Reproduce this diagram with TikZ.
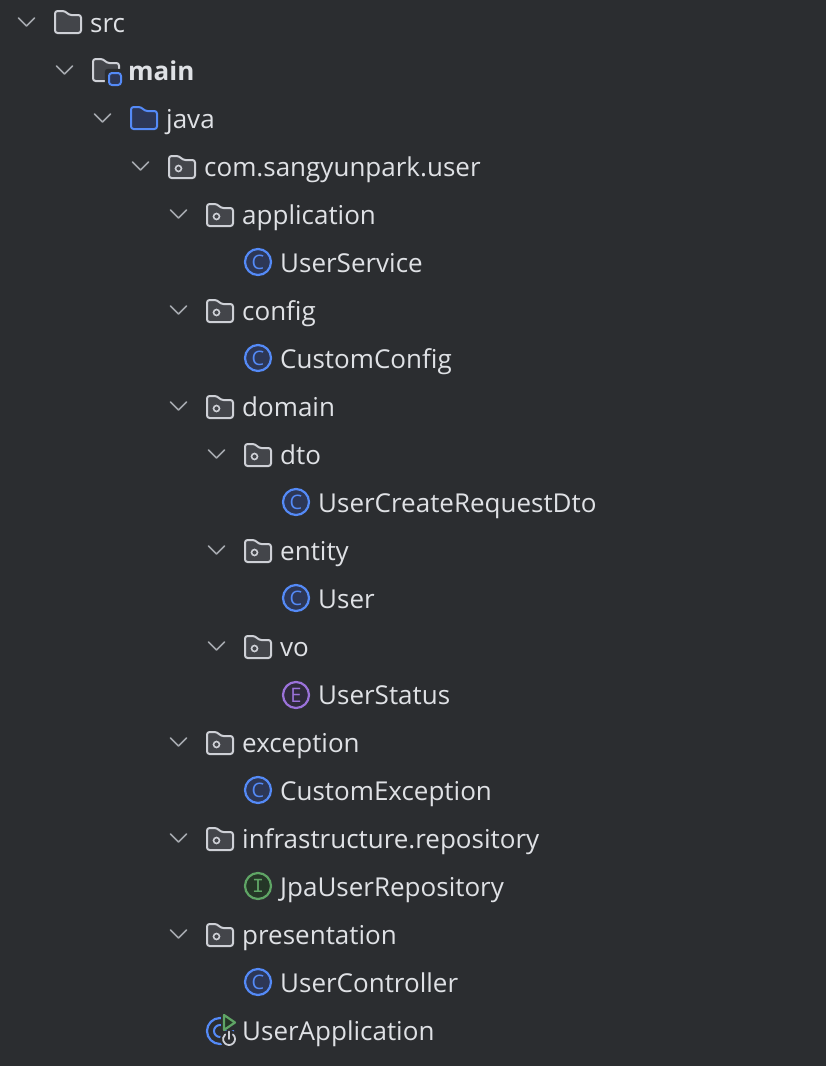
\documentclass[tikz,border=0pt]{standalone}
\usepackage{fontspec}
\setmainfont{Open Sans}
\newfontfamily\iconmono{Liberation Mono}
\definecolor{panelbg}{HTML}{2B2D30}
\definecolor{labelcol}{HTML}{DFE1E5}
\definecolor{chevcol}{HTML}{A4A7AD}
\definecolor{foldline}{HTML}{CED0D6}
\definecolor{foldfill}{HTML}{43454A}
\definecolor{blueline}{HTML}{548AF7}
\definecolor{bluefill}{HTML}{2D3756}
\definecolor{purpline}{HTML}{9B72DA}
\definecolor{purpfill}{HTML}{2F2A3C}
\definecolor{greenline}{HTML}{5FA565}
\definecolor{greenfill}{HTML}{253627}
\tikzset{
	x=1pt,y=-1pt,
	rowlabel/.style = {anchor=base west,inner sep=0pt,text=labelcol,font=\fontsize{26}{30}\selectfont},
	iconletter/.style = {inner sep=0pt,font=\fontsize{20}{20}\selectfont},
	pics/chevron/.style = {code={
		\draw[chevcol,line width=1.5pt,line cap=round,line join=round] (-8.5,-4) -- (-0.5,4) -- (7.5,-4);
	}},
	pics/foldericon/.style n args = {2}{code={
		\draw[#1,fill=#2,line width=2pt,rounded corners=2.6pt]
			(0,11) -- (0,-11) -- (10,-11) -- (14,-7) -- (26,-7) -- (26,11) -- cycle;
	}},
	pics/packageicon/.style = {code={
		\draw[foldline,fill=foldfill,line width=2pt,rounded corners=2.6pt]
			(0,11) -- (0,-11) -- (10,-11) -- (14,-7) -- (26,-7) -- (26,11) -- cycle;
		\draw[foldline,line width=1.6pt] (9.5,1.5) circle (3);
	}},
	pics/roundicon/.style n args = {3}{code={
		\draw[#1,fill=#2,line width=2.2pt] (0,0) circle (13);
		\node[iconletter,text=#1] at (0,0) {#3};
	}},
}
\begin{document}
\begin{tikzpicture}
	\useasboundingbox[fill=panelbg] (0,0) rectangle (826,1066);

	% tree rows: row/level/label
	\foreach \r/\l/\t in {0/0/src,2/2/java,3/3/com.sangyunpark.user,4/4/application,6/4/config,8/4/domain,9/5/dto,11/5/entity,13/5/vo,15/4/exception,17/4/infrastructure.repository,19/4/presentation}{
		\pic at ({27+38*\l},{23+48*\r-1}) {chevron};
		\node[rowlabel] (row\r) at ({90+38*\l},{32+48*\r}) {\t};
	}
	\pic at (65,70) {chevron};
	\node[rowlabel,font=\fontsize{26}{30}\selectfont\bfseries] (row1) at (128,80) {main};

	% plain, source and java folders
	\pic at (55,22) {foldericon={foldline}{foldfill}};
	\pic at (93,70) {foldericon={foldline}{foldfill}};
	\pic at (131,118) {foldericon={blueline}{bluefill}};
	\draw[panelbg,fill=panelbg,rounded corners=3pt] (105,69) rectangle (124,88);
	\draw[blueline,fill=bluefill,line width=2pt,rounded corners=3pt] (109,73) rectangle (121,85);

	% package folders
	\foreach \r/\l in {3/3,4/4,6/4,8/4,9/5,11/5,13/5,15/4,17/4,19/4}{
		\pic at ({55+38*\l},{22+48*\r+1}) {packageicon};
	}

	% classes
	\foreach \r/\l/\t in {5/5/UserService,7/5/CustomConfig,10/6/UserCreateRequestDto,12/6/User,16/5/CustomException,20/5/UserController}{
		\pic at ({68+38*\l},{23+48*\r-1}) {roundicon={blueline}{bluefill}{C}};
		\node[rowlabel] (row\r) at ({90+38*\l},{32+48*\r}) {\t};
	}
	\pic at (296,695) {roundicon={purpline}{purpfill}{E}};
	\node[rowlabel] (row14) at (318,704) {UserStatus};
	\pic at (258,886) {roundicon={greenline}{greenfill}{\iconmono I}};
	\node[rowlabel] (row18) at (280,896) {JpaUserRepository};

	% main class
	\draw[blueline,line width=2.2pt] (220,1031) circle (13);
	\draw[blueline,line width=2pt] (220,1031) circle (6);
	\fill[panelbg] (221,1012) rectangle (240,1030);
	\fill[panelbg] (229,1039) circle (9);
	\draw[greenline,fill=greenfill,line width=2.2pt,line join=round] (224,1015) -- (235,1022.5) -- (224,1030) -- cycle;
	\draw[foldline,line width=1.8pt,line cap=round] (232.9,1034.4) arc[start angle=-50,end angle=230,radius=6];
	\draw[foldline,line width=1.8pt,line cap=round] (229,1031.5) -- (229,1039);
	\node[rowlabel] (row21) at (242,1040) {UserApplication};
\end{tikzpicture}
\end{document}
